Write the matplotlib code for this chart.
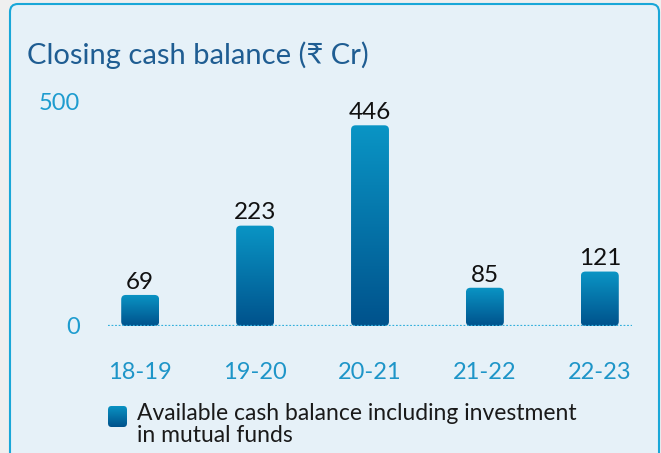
import numpy as np
import matplotlib.pyplot as plt
from matplotlib.patches import FancyBboxPatch
from matplotlib.colors import LinearSegmentedColormap

years = ['18-19', '19-20', '20-21', '21-22', '22-23']
balance = [69, 223, 446, 85, 121]
yticks = [0, 500]

title = 'Closing cash balance (\u20b9 Cr)'
legend_text = 'Available cash balance including investment\nin mutual funds'

plt.rcParams['font.family'] = ['Lato', 'DejaVu Sans']

W, H = 661, 453
fig = plt.figure(figsize=(W / 100, H / 100), dpi=100)
fig.patch.set_facecolor('#efefef')

# light blue panel with a rounded border
panel = FancyBboxPatch((10 / W, -0.1), 649 / W, 1.1 - 4 / H,
                       boxstyle='round,pad=0,rounding_size=0.012',
                       transform=fig.transFigure, facecolor='#e6f1f8',
                       edgecolor='#1aa7d8', linewidth=1.5,
                       mutation_aspect=W / H, zorder=-5)
fig.patches.append(panel)

ax = fig.add_axes([108 / W, 1 - 326 / H, 524 / W, 225 / H])
ax.set_facecolor('none')

grad = LinearSegmentedColormap.from_list('g', ['#00528c', '#0a95c5'])
width = 0.33
px_x = 524 / 4.56   # pixels per x unit
px_y = 225 / 500    # pixels per y unit
for i, v in enumerate(balance):
    x0 = i - width / 2
    patch = FancyBboxPatch((x0, 0), width, v,
                           boxstyle='round,pad=0,rounding_size=0.04',
                           mutation_aspect=px_x / px_y,
                           facecolor='none', edgecolor='none')
    ax.add_patch(patch)
    img = ax.imshow(np.linspace(0, 1, 256).reshape(-1, 1), cmap=grad,
                    origin='lower', extent=(x0, x0 + width, 0, v),
                    aspect='auto', zorder=2)
    img.set_clip_path(patch)
    ax.text(i, v + 5, str(v), ha='center', va='bottom', fontsize=17.5,
            color='#111111')

ax.set_xlim(-0.28, 4.28)
ax.set_ylim(0, 500)
ax.axhline(0, color='#33b0dc', linewidth=1.6, linestyle=(0, (0.8, 0.8)),
           zorder=3)

for s in ax.spines.values():
    s.set_visible(False)
ax.set_xticks(range(len(years)))
ax.set_xticklabels(years)
ax.set_yticks(yticks)
ax.tick_params(length=0)
ax.tick_params(axis='x', pad=26, labelsize=17, labelcolor='#1e95c8')
ax.tick_params(axis='y', pad=20, labelsize=17, labelcolor='#1e9ccf')

fig.text(27 / W, 1 - 55 / H, title, fontsize=21, color='#1f5d92',
         va='center', ha='left')

# legend marker and label
lax = fig.add_axes([108 / W, 1 - 427 / H, 19 / W, 21 / H])
lax.axis('off')
lax.set_xlim(0, 1)
lax.set_ylim(0, 1)
lpatch = FancyBboxPatch((0, 0), 1, 1,
                        boxstyle='round,pad=0,rounding_size=0.18',
                        facecolor='none', edgecolor='none')
lax.add_patch(lpatch)
limg = lax.imshow(np.linspace(0, 1, 64).reshape(-1, 1), cmap=grad,
                  origin='lower', extent=(0, 1, 0, 1), aspect='auto')
limg.set_clip_path(lpatch)

fig.text(137 / W, 1 - 403 / H, legend_text, fontsize=16.5, color='#1a1a1a',
         va='top', ha='left', linespacing=1.05)

fig.savefig('out.png', dpi=100, facecolor=fig.get_facecolor())
